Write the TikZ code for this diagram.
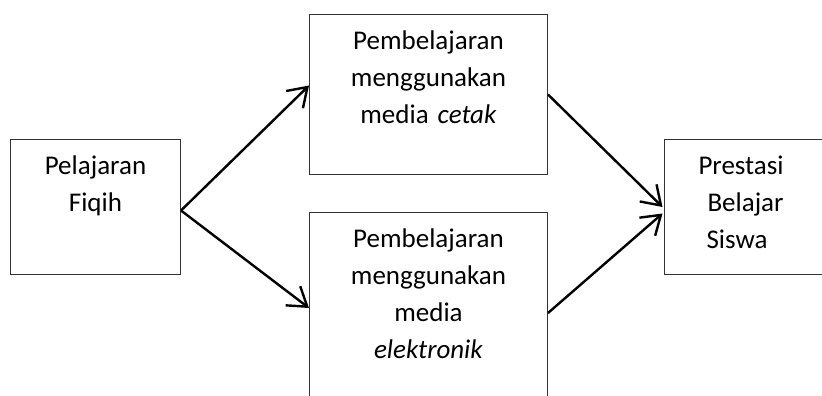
\documentclass[tikz,border=0pt]{standalone}
\usepackage{fontspec}
\setmainfont{Carlito}
\usepackage{tikz}
\usetikzlibrary{positioning}
\usetikzlibrary{arrows.meta}
\tikzset{>={Straight Barb[length=18pt,width=24pt]}}

\begin{document}
\begin{tikzpicture}[x=1pt,y=-1pt]
% Define styles
\tikzstyle{box} = [rectangle, draw=black!80, line width=1pt, inner sep=0pt, align=center, anchor=north west, text height=34.5pt, font=\fontsize{27}{37.3}\selectfont]
\tikzstyle{link} = [->, line width=2.4pt]
\clip (0,0) rectangle (822,396);
% Define nodes
\node[box, text width=170pt, text depth=100.5pt] (fiqih) at (10,139) {Pelajaran\\Fiqih};
\node[box, text width=238pt, text depth=125.5pt] (cetak) at (309,14) {Pembelajaran\\menggunakan\\media \textit{cetak}};
\node[box, text width=238pt, text depth=185.5pt] (elektronik) at (309,212) {Pembelajaran\\menggunakan\\media\\\textit{elektronik}};
\node[box, align=left, inner xsep=34pt, text width=110pt, text depth=100.5pt] (prestasi) at (664,139) {Prestasi\\\hspace*{9pt}Belajar\\\hspace*{8pt}Siswa};
% Connect the nodes
\draw[link] ([yshift=-3.5pt]fiqih.east) -- ([yshift=9pt]cetak.west);
\draw[link] ([yshift=-3.5pt]fiqih.east) -- ([yshift=-96pt]elektronik.north west);
\draw[link] (cetak.east) -- ([xshift=-1.5pt]prestasi.west);
\draw[link] ([yshift=-101pt]elektronik.north east) -- ([xshift=-1.5pt,yshift=-6.5pt]prestasi.west);
\end{tikzpicture}
\end{document}
